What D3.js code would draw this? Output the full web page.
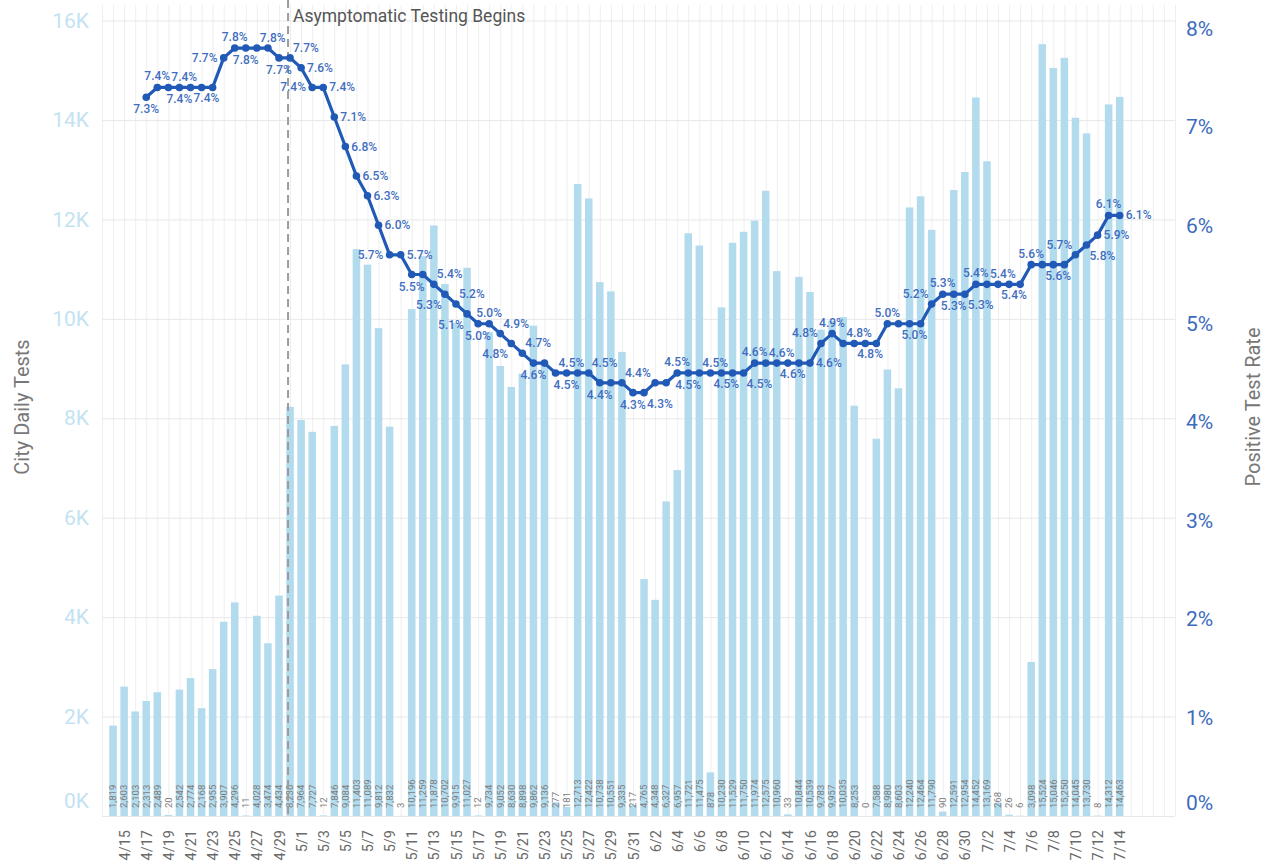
<!DOCTYPE html>
<html>
<head>
<meta charset="utf-8" />
<style>
    body { margin: 0; background: #fff; }
    svg { display: block; }
    text { font-family: Roboto, sans-serif; }
</style>
</head>
<body>
<svg id="chart" width="1274" height="866"></svg>
<script src="https://cdnjs.cloudflare.com/ajax/libs/d3/7.8.5/d3.min.js"></script>
<script>
// ---- data ----
var days = [
    '4/14','4/15','4/16','4/17','4/18','4/19','4/20','4/21','4/22','4/23','4/24','4/25','4/26','4/27','4/28','4/29','4/30',
    '5/1','5/2','5/3','5/4','5/5','5/6','5/7','5/8','5/9','5/10','5/11','5/12','5/13','5/14','5/15','5/16',
    '5/17','5/18','5/19','5/20','5/21','5/22','5/23','5/24','5/25','5/26','5/27','5/28','5/29','5/30','5/31',
    '6/1','6/2','6/3','6/4','6/5','6/6','6/7','6/8','6/9','6/10','6/11','6/12','6/13','6/14','6/15',
    '6/16','6/17','6/18','6/19','6/20','6/21','6/22','6/23','6/24','6/25','6/26','6/27','6/28','6/29','6/30',
    '7/1','7/2','7/3','7/4','7/5','7/6','7/7','7/8','7/9','7/10','7/11','7/12','7/13','7/14'
];

var dailyTests = [
    1819, 2603, 2103, 2313, 2489, 20, 2542, 2774, 2168, 2955, 3907, 4296, 11, 4028, 3474, 4434, 8230,
    7964, 7727, 12, 7846, 9084, 11403, 11089, 9812, 7832, 3, 10196, 11259, 11878, 10702, 9915,
    11027, 12, 9734, 9052, 8630, 8898, 9862, 9136, 277, 181, 12713, 12422, 10738, 10551, 9335,
    217, 4765, 4348, 6327, 6957, 11721, 11475, 878, 10230, 11529, 11750, 11974, 12575, 10960, 33,
    10844, 10539, 9783, 9957, 10035, 8253, 0, 7588, 8980, 8603, 12240, 12464, 11790, 90, 12591, 12954,
    14452, 13169, 268, 26, 6, 3098, 15524, 15046, 15250, 14045, 13730, 8, 14312, 14463
];

var positiveRate = [
    null, null, null, 7.3, 7.4, 7.4, 7.4, 7.4, 7.4, 7.4, 7.7, 7.8, 7.8, 7.8, 7.8, 7.7, 7.7,
    7.6, 7.4, 7.4, 7.1, 6.8, 6.5, 6.3, 6.0, 5.7, 5.7, 5.5, 5.5, 5.4, 5.3, 5.2,
    5.1, 5.0, 5.0, 4.9, 4.8, 4.7, 4.6, 4.6, 4.5, 4.5, 4.5, 4.5, 4.4, 4.4, 4.4,
    4.3, 4.3, 4.4, 4.4, 4.5, 4.5, 4.5, 4.5, 4.5, 4.5, 4.5, 4.6, 4.6, 4.6, 4.6,
    4.6, 4.6, 4.8, 4.9, 4.8, 4.8, 4.8, 4.8, 5.0, 5.0, 5.0, 5.0, 5.2, 5.3, 5.3, 5.3,
    5.4, 5.4, 5.4, 5.4, 5.4, 5.6, 5.6, 5.6, 5.6, 5.7, 5.8, 5.9, 6.1, 6.1
];

var xTickLabels = [
    '4/15','4/17','4/19','4/21','4/23','4/25','4/27','4/29',
    '5/1','5/3','5/5','5/7','5/9','5/11','5/13','5/15','5/17','5/19','5/21','5/23','5/25','5/27','5/29','5/31',
    '6/2','6/4','6/6','6/8','6/10','6/12','6/14','6/16','6/18','6/20','6/22','6/24','6/26','6/28','6/30',
    '7/2','7/4','7/6','7/8','7/10','7/12','7/14'
];
var testsTicks = [0, 2000, 4000, 6000, 8000, 10000, 12000, 14000, 16000];
var rateTicks = [0, 1, 2, 3, 4, 5, 6, 7, 8];
var gridStart = '4/13', gridEnd = '7/19';
var annotationDay = '4/30';
var annotationText = 'Asymptomatic Testing Begins';

// ---- layout ----
var svg = d3.select('#chart');
var plotLeft = 102, plotRight = 1175, plotTop = 5, baseline = 816, topLine = 20.5;
var rateAxisMax = 8.08;

var parseDay = d3.timeParse('%-m/%-d/%Y');
function toDate(s){ return parseDay(s + '/2020'); }
var dates = days.map(toDate);

var x = d3.scaleTime().domain([toDate(gridStart), toDate(gridEnd)]).range([plotLeft, plotRight]);
var yTests = d3.scaleLinear().domain([0, 16000]).range([baseline, topLine]);
var yRate = d3.scaleLinear().domain([0, rateAxisMax]).range([baseline, topLine]);
var dayWidth = x(dates[1]) - x(dates[0]);
var barWidth = dayWidth * 0.68;

// grid
var vGrid = svg.append('g').attr('transform', 'translate(0,' + baseline + ')')
    .call(d3.axisBottom(x).ticks(d3.timeDay.every(1)).tickSize(-(baseline - plotTop)).tickFormat(''));
vGrid.select('.domain').remove();
vGrid.selectAll('line').attr('stroke', '#eeeeee');

var hGrid = svg.append('g').attr('transform', 'translate(' + plotLeft + ',0)')
    .call(d3.axisLeft(yTests).tickValues(testsTicks).tickSize(-(plotRight - plotLeft)).tickFormat(''));
hGrid.select('.domain').remove();
hGrid.selectAll('line').attr('stroke', '#e8e8e8');

// bars
svg.append('g').selectAll('rect')
    .data(dailyTests)
    .enter().append('rect')
    .attr('x', function(d, i){ return x(dates[i]) - barWidth / 2; })
    .attr('y', function(d){ return yTests(d); })
    .attr('width', barWidth)
    .attr('height', function(d){ return baseline - yTests(d); })
    .attr('fill', '#b3dbee');

// bar value labels
svg.append('g').selectAll('text')
    .data(dailyTests)
    .enter().append('text')
    .attr('transform', function(d, i){ return 'translate(' + x(dates[i]) + ',808) rotate(-90)'; })
    .attr('dy', '0.35em')
    .attr('text-anchor', 'start')
    .attr('font-size', '9.5px')
    .attr('fill', '#7d7d7d')
    .text(function(d){ return d3.format(',')(d); });

// annotation
var ax = x(toDate(annotationDay)) - 2;
svg.append('line')
    .attr('x1', ax).attr('x2', ax)
    .attr('y1', 0).attr('y2', baseline)
    .attr('stroke', '#9c9c9c').attr('stroke-width', 2)
    .attr('stroke-dasharray', '8,5');
svg.append('text')
    .attr('x', ax + 5).attr('y', 22)
    .attr('font-size', '17.5px')
    .attr('fill', '#555')
    .text(annotationText);

// positive rate line
var pts = [];
positiveRate.forEach(function(v, i){
    if (v != null) pts.push({x: x(dates[i]), y: yRate(v), v: v});
});
var lineColor = '#215ab6';
svg.append('path')
    .datum(pts)
    .attr('fill', 'none')
    .attr('stroke', lineColor)
    .attr('stroke-width', 3.2)
    .attr('stroke-linejoin', 'round')
    .attr('d', d3.line().x(function(d){ return d.x; }).y(function(d){ return d.y; }));
svg.append('g').selectAll('circle')
    .data(pts)
    .enter().append('circle')
    .attr('cx', function(d){ return d.x; })
    .attr('cy', function(d){ return d.y; })
    .attr('r', 3.8)
    .attr('fill', lineColor);

// line labels, placed where they don't collide
var samples = [];
for (var k = 0; k < pts.length - 1; k++) {
    var a = pts[k], b = pts[k + 1];
    var n = Math.ceil(Math.hypot(b.x - a.x, b.y - a.y));
    for (var s = 0; s <= n; s++) samples.push([a.x + (b.x - a.x) * s / n, a.y + (b.y - a.y) * s / n]);
}
var labelG = svg.append('g')
    .attr('font-size', '12px')
    .attr('font-weight', 500)
    .attr('fill', '#3f6ec0');
var placed = [];
function collides(r, ink){
    for (var j = 0; j < placed.length; j++) {
        var p = placed[j];
        if (r.x0 < p.x1 + 1 && r.x1 > p.x0 - 1 && r.y0 < p.y1 && r.y1 > p.y0) return true;
    }
    for (var m = 0; m < samples.length; m++) {
        var q = samples[m];
        if (q[0] > ink.x0 - 2 && q[0] < ink.x1 + 2 && q[1] > ink.y0 - 2 && q[1] < ink.y1 + 2) return true;
    }
    if (r.x0 < plotLeft || r.x1 > plotRight || r.y0 < plotTop + 18) return true;
    return false;
}
pts.forEach(function(p){
    var label = d3.format('.1f')(p.v) + '%';
    var t = labelG.append('text').text(label).attr('x', 0).attr('y', 0);
    var bb = t.node().getBBox();
    var w = bb.width;
    var cands = [
        {ax: p.x - w / 2, base: p.y - 7},
        {ax: p.x - w / 2, base: p.y + 16},
        {ax: p.x + 6, base: p.y + 4},
        {ax: p.x - 6 - w, base: p.y + 4},
        {ax: p.x + 3, base: p.y - 6},
        {ax: p.x - 3 - w, base: p.y + 15},
        {ax: p.x - 3 - w, base: p.y - 6},
        {ax: p.x + 3, base: p.y + 15}
    ];
    for (var c = 0; c < cands.length; c++) {
        var cd = cands[c];
        var r = {x0: cd.ax, x1: cd.ax + w, y0: cd.base + bb.y, y1: cd.base + bb.y + bb.height};
        var ink = {x0: cd.ax, x1: cd.ax + w, y0: cd.base - 9, y1: cd.base};
        if (!collides(r, ink)) {
            placed.push(r);
            t.attr('x', cd.ax).attr('y', cd.base);
            return;
        }
    }
    t.remove();
});

// axes
var leftAxis = svg.append('g').attr('transform', 'translate(' + plotLeft + ',0)')
    .call(d3.axisLeft(yTests).tickValues(testsTicks).tickSize(0).tickPadding(13)
        .tickFormat(function(d){ return (d / 1000) + 'K'; }));
leftAxis.select('.domain').remove();
leftAxis.selectAll('text')
    .attr('font-size', '21px')
    .attr('fill', '#c3e2f2')
    .attr('font-family', 'Roboto, sans-serif')
    .attr('dy', function(d){ return d === 0 ? '-0.4em' : '0.32em'; });

var rightAxis = svg.append('g').attr('transform', 'translate(' + plotRight + ',0)')
    .call(d3.axisRight(yRate).tickValues(rateTicks).tickSize(0).tickPadding(11)
        .tickFormat(function(d){ return d + '%'; }));
rightAxis.select('.domain').remove();
rightAxis.selectAll('text')
    .attr('font-size', '21px')
    .attr('fill', '#3c6cbc')
    .attr('font-family', 'Roboto, sans-serif')
    .attr('dy', function(d){ return d === 0 ? '-0.3em' : '0.32em'; });

var bottomAxis = svg.append('g').attr('transform', 'translate(0,824)')
    .call(d3.axisBottom(x).tickValues(xTickLabels.map(toDate)).tickSize(0)
        .tickFormat(d3.timeFormat('%-m/%-d')));
bottomAxis.select('.domain').remove();
bottomAxis.selectAll('text')
    .attr('transform', 'rotate(-90)')
    .attr('text-anchor', 'end')
    .attr('x', -6)
    .attr('y', 0)
    .attr('dy', '0.35em')
    .attr('font-size', '14.5px')
    .attr('fill', '#6a6a6a')
    .attr('font-family', 'Roboto, sans-serif');

// axis titles
svg.append('text')
    .attr('transform', 'translate(29,407) rotate(-90)')
    .attr('text-anchor', 'middle')
    .attr('font-size', '20px')
    .attr('fill', '#777')
    .text('City Daily Tests');
svg.append('text')
    .attr('transform', 'translate(1260,407) rotate(-90)')
    .attr('text-anchor', 'middle')
    .attr('font-size', '20px')
    .attr('fill', '#777')
    .text('Positive Test Rate');
</script>
</body>
</html>
